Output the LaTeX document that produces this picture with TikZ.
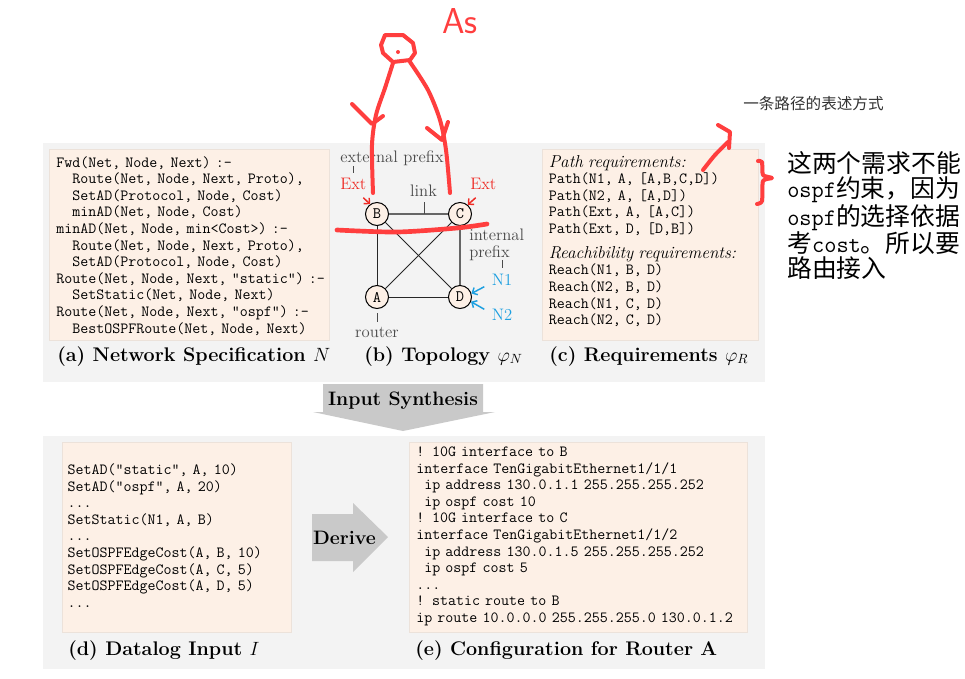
\documentclass[tikz,border=0pt]{standalone}
\usepackage{fontspec}
\newfontfamily\cjk{Noto Sans CJK SC}
\usetikzlibrary{arrows.meta}
\definecolor{bggray}{HTML}{F3F3F3}
\definecolor{boxfill}{HTML}{FDF0E6}
\definecolor{boxline}{HTML}{ECE2DA}
\definecolor{arrgray}{HTML}{C9C9C9}
\definecolor{labgray}{HTML}{4A4A4A}
\definecolor{extred}{HTML}{EE2B25}
\definecolor{nblue}{HTML}{1C9FE0}
\definecolor{handred}{HTML}{FF3E3E}
\definecolor{edgegray}{HTML}{666666}
\begin{document}
\begin{tikzpicture}[x=0.75pt,y=-0.75pt,
 band/.style={fill=bggray, draw=none},
 codebox/.style={fill=boxfill, draw=boxline, line width=0.75pt},
 code/.style={anchor=base west, inner sep=0pt, text width=300pt, align=left, font=\fontsize{11.65}{12.45}\selectfont\ttfamily},
 captext/.style={anchor=base west, inner sep=0pt, font=\fontsize{14.8}{17}\selectfont\bfseries},
 lab/.style={inner sep=0pt, text=labgray, font=\fontsize{12.5}{12.75}\selectfont},
 rtr/.style={circle, draw=black, fill=boxfill, line width=0.75pt, minimum size=17.25pt, inner sep=0pt, font=\fontsize{12}{14}\selectfont\ttfamily},
 thinedge/.style={draw=black!85, line width=0.75pt},
 thickedge/.style={draw=edgegray, line width=1.5pt},
 tick/.style={draw=labgray, line width=0.75pt},
 extarrow/.style={draw=extred, line width=1.1pt, -{Straight Barb[length=3pt,width=6pt]}},
 narrow/.style={draw=nblue, line width=1.1pt, -{Straight Barb[length=3pt,width=6pt]}},
 hand/.style={draw=handred, line width=3pt, line cap=round, line join=round},
 bigarrow/.style={fill=arrgray, draw=none},
 bigtext/.style={inner sep=0pt, anchor=base, font=\fontsize{14.6}{17}\selectfont\bfseries}]

\path[fill=white] (0,0) rectangle (965,679);
\useasboundingbox (0,0) rectangle (965,679);

% bands and boxes
\path[band] (43,143) rectangle (765,382);
\path[band] (43,436) rectangle (765,669);
\path[codebox] (49,149) rectangle (329,340);
\path[codebox] (542,149) rectangle (758,340);
\path[codebox] (62,442) rectangle (291,632);
\path[codebox] (409,442) rectangle (747,632);

% (a)
\node[code] (spec) at (56,167) {Fwd(Net, Node, Next) :-\\
\phantom{xx}Route(Net, Node, Next, Proto),\\
\phantom{xx}SetAD(Protocol, Node, Cost)\\
\phantom{xx}minAD(Net, Node, Cost)\\
minAD(Net, Node, min<Cost>) :-\\
\phantom{xx}Route(Net, Node, Next, Proto),\\
\phantom{xx}SetAD(Protocol, Node, Cost)\\
Route(Net, Node, Next, "static") :-\\
\phantom{xx}SetStatic(Net, Node, Next)\\
Route(Net, Node, Next, "ospf") :-\\
\phantom{xx}BestOSPFRoute(Net, Node, Next)};

% (c)
\node[code] (reqs) at (548.5,167) {{\fontsize{12.9}{12.45}\selectfont\rmfamily\itshape Path requirements:}\\
Path(N1, A, [A,B,C,D])\\
Path(N2, A, [A,D])\\
Path(Ext, A, [A,C])\\
Path(Ext, D, [D,B])\\[6.2pt]
{\fontsize{12.9}{12.45}\selectfont\rmfamily\itshape Reachibility requirements:}\\
Reach(N1, B, D)\\
Reach(N2, B, D)\\
Reach(N1, C, D)\\
Reach(N2, C, D)};

% (d)
\node[code] (dlin) at (67.3,474.5) {SetAD("static", A, 10)\\
SetAD("ospf", A, 20)\\
...\\
SetStatic(N1, A, B)\\
...\\
SetOSPFEdgeCost(A, B, 10)\\
SetOSPFEdgeCost(A, C, 5)\\
SetOSPFEdgeCost(A, D, 5)\\
...};

% (e)
\node[code] (conf) at (416,456.5) {! 10G interface to B\\
interface TenGigabitEthernet1/1/1\\
\phantom{x}ip address 130.0.1.1 255.255.255.252\\
\phantom{x}ip ospf cost 10\\
! 10G interface to C\\
interface TenGigabitEthernet1/1/2\\
\phantom{x}ip address 130.0.1.5 255.255.255.252\\
\phantom{x}ip ospf cost 5\\
...\\
! static route to B\\
ip route 10.0.0.0 255.255.255.0 130.0.1.2};

% captions
\node[captext] (capa) at (57,361) {(a) Network Specification $N$};
\node[captext] (capb) at (364,361) {(b) Topology $\varphi_N$};
\node[captext] (capc) at (549,361) {(c) Requirements $\varphi_R$};
\node[captext] (capd) at (68,655) {(d) Datalog Input $I$};
\node[captext] (cape) at (415,655) {(e) Configuration for Router A};

% big arrows
\path[bigarrow] (323,384) -- (483,384) -- (483,412) -- (495,412) -- (403,431) -- (313,412) -- (323,412) -- cycle;
\node[bigtext] (insyn) at (403,405) {Input Synthesis};
\path[bigarrow] (312,514) -- (353,514) -- (353,503) -- (388,537) -- (353,572) -- (353,561) -- (312,561) -- cycle;
\node[bigtext] (derive) at (344.5,544) {Derive};

% topology
\node[rtr] (B) at (377,214) {B};
\node[rtr] (C) at (460,214) {C};
\node[rtr] (A) at (377,297) {A};
\node[rtr] (D) at (460,297) {D};
\draw[thinedge] (B) -- (A);
\draw[thinedge] (A) -- (D);
\draw[thinedge] (B) -- (D);
\draw[thinedge] (A) -- (C);
\draw[thickedge] (B) -- (C);
\draw[thickedge] (C) -- (D);

\node[lab, anchor=base west] (extpre) at (340,162.5) {external prefix};
\draw[tick] (353,166) -- (353,173);
\node[lab, anchor=base west, text=extred] (extB) at (340,189.3) {Ext};
\node[lab, anchor=base west, text=extred] (extC) at (470,189.3) {Ext};
\coordinate (extBt) at (363.3,197.7);
\coordinate (extCt) at (475.7,197.7);
\draw[extarrow] (extBt) -- (B.125);
\draw[extarrow] (extCt) -- (C.50);
\node[lab, anchor=base] (link) at (423.5,196) {link};
\draw[tick] (424,202) -- (424,214);
\node[lab, anchor=base west, text width=60pt, align=left] (intpre) at (469,240) {internal\\prefix};
\draw[tick] (502,260) -- (502,268);
\node[lab, anchor=base west, text=nblue] (N1) at (491.7,285) {N1};
\node[lab, anchor=base west, text=nblue] (N2) at (491.7,320) {N2};
\coordinate (n1t) at (484.3,286.7);
\coordinate (n2t) at (484.3,309.3);
\draw[narrow] (n1t) -- (D.17);
\draw[narrow] (n2t) -- (D.-23);
\draw[tick] (377,313) -- (377,322);
\node[lab, anchor=base] (router) at (377,337) {router};

% chinese notes
\node[anchor=base west, inner sep=0pt, text=black!80, font=\fontsize{11.7}{14}\selectfont\cjk] (pathnote) at (743,109.2) {一条路径的表述方式};
\node[anchor=base west, inner sep=0pt, text width=400pt, align=left, font=\fontsize{18.6}{18.75}\selectfont\cjk] (note) at (787,172.7) {这两个需求不能\\
{\fontsize{17.8}{18.75}\selectfont\ttfamily ospf}约束，因为\\
{\fontsize{17.8}{18.75}\selectfont\ttfamily ospf}的选择依据\\
考{\fontsize{17.8}{18.75}\selectfont\ttfamily cost}。所以要\\
路由接入};

% hand drawn annotations
\node[inner sep=0pt, text=handred, font=\fontsize{27}{30}\selectfont\sffamily] (as) at (460,21) {As};
\draw[hand] (385,35) -- (403,35) -- (413,43) -- (415,53) -- (410,60) -- (393,62) -- (383,53) -- (381,45) -- cycle;
\fill[handred] (398,52) circle (1.5pt);
\draw[hand] plot[smooth] coordinates {(393,63) (385,88) (376,115) (372,145) (373,193)};
\draw[hand] (352,104) -- (372,124) -- (383,116);
\draw[hand] plot[smooth] coordinates {(410,62) (428,90) (440,120) (446,150) (450,193)};
\draw[hand] (427,128) -- (442,140) -- (448,122);
\draw[hand, line width=3.5pt] plot[smooth] coordinates {(337,230) (397,232) (457,228) (487,224)};
\draw[hand] plot[smooth] coordinates {(703,170) (715,155) (728,142)};
\draw[hand] (718,125) -- (730,132) -- (729,148);
\draw[hand] plot[smooth, tension=0.4] coordinates {(758,161) (762,162) (763,175) (772,178) (763,181) (762,201) (757,204)};
\end{tikzpicture}
\end{document}
